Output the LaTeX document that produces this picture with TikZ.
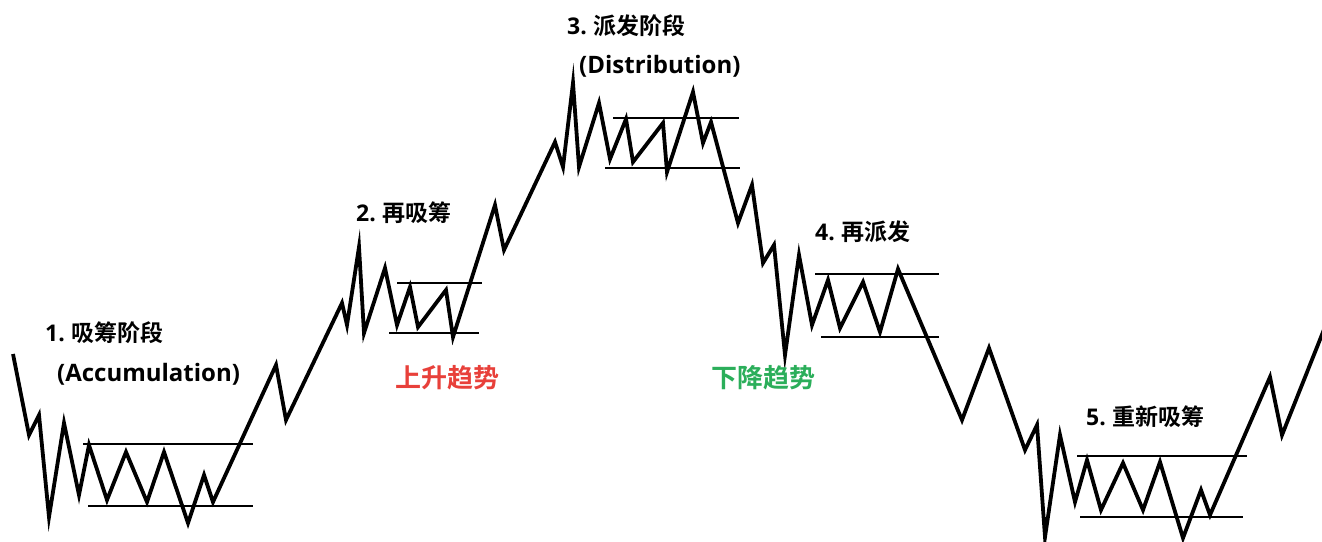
\documentclass[tikz,border=0pt]{standalone}
\usepackage{fontspec}
\setmainfont{Noto Sans CJK SC}[BoldFont={* Bold}]
\newfontfamily\cjkb{Noto Sans CJK SC Bold}
\newfontfamily\latb{Open Sans}
\newcommand\lt[1]{{\latb\bfseries #1}}
\definecolor{upred}{HTML}{E8403A}
\definecolor{downgreen}{HTML}{2BAE5A}
\begin{document}
\begin{tikzpicture}[x=1pt,y=-1pt,
  price/.style={line width=3.8pt,line join=miter,miter limit=20,black},
  band/.style={line width=2pt,black},
  stage/.style={anchor=west,inner sep=0pt,font=\cjkb\fontsize{23}{25}\selectfont},
  eng/.style={anchor=west,inner sep=0pt,font=\latb\bfseries\fontsize{24}{26}\selectfont},
  trend/.style={anchor=west,inner sep=0pt,font=\cjkb\fontsize{26}{28}\selectfont}]
\useasboundingbox (0,0) rectangle (1322,541);
% range bands
\draw[band] (83,444) -- (253,444);
\draw[band] (88,506) -- (253,506);
\draw[band] (397,283) -- (482,283);
\draw[band] (389,333) -- (479,333);
\draw[band] (613,118) -- (739,118);
\draw[band] (605,168) -- (740,168);
\draw[band] (815,274) -- (939,274);
\draw[band] (821,337) -- (939,337);
\draw[band] (1077,456) -- (1247,456);
\draw[band] (1080,517) -- (1243,517);
% price path
\draw[price] (13,354) -- (29,435) -- (39,415) -- (49,517) -- (64,423) -- (79,495)
  -- (89,445) -- (107,500) -- (126,452) -- (147,502) -- (164,452) -- (188,523)
  -- (204,475) -- (213,502) -- (276,365) -- (286,420) -- (342,303) -- (347,325)
  -- (359,247) -- (364,333) -- (385,268) -- (397,325) -- (410,287) -- (418,327)
  -- (446,290) -- (453,337) -- (495,205) -- (504,250) -- (555,142) -- (563,167)
  -- (573,83) -- (579,167) -- (599,103) -- (610,159) -- (626,119) -- (633,162)
  -- (663,123) -- (667,172) -- (693,92) -- (703,143) -- (711,122) -- (738,223)
  -- (752,185) -- (763,263) -- (774,245) -- (785,355) -- (799,255) -- (812,325)
  -- (828,280) -- (840,328) -- (863,282) -- (880,332) -- (898,269) -- (962,420)
  -- (989,348) -- (1025,450) -- (1037,425) -- (1045,537) -- (1060,435) -- (1075,502)
  -- (1087,460) -- (1101,510) -- (1123,463) -- (1143,510) -- (1160,462) -- (1183,538)
  -- (1201,490) -- (1210,515) -- (1270,377) -- (1282,435) -- (1325,327);
% labels
\node[stage] (s1) at (45,333) {\lt{1.} 吸筹阶段};
\node[eng] (s1e) at (57,374) {(Accumulation)};
\node[stage] (s2) at (356,213) {\lt{2.} 再吸筹};
\node[stage] (s3) at (567,26) {\lt{3.} 派发阶段};
\node[eng] (s3e) at (579,66) {(Distribution)};
\node[stage] (s4) at (815,232) {\lt{4.} 再派发};
\node[stage] (s5) at (1086,417) {\lt{5.} 重新吸筹};
\node[trend,text=upred] (up) at (395,378) {上升趋势};
\node[trend,text=downgreen] (down) at (711,378) {下降趋势};
\end{tikzpicture}
\end{document}
